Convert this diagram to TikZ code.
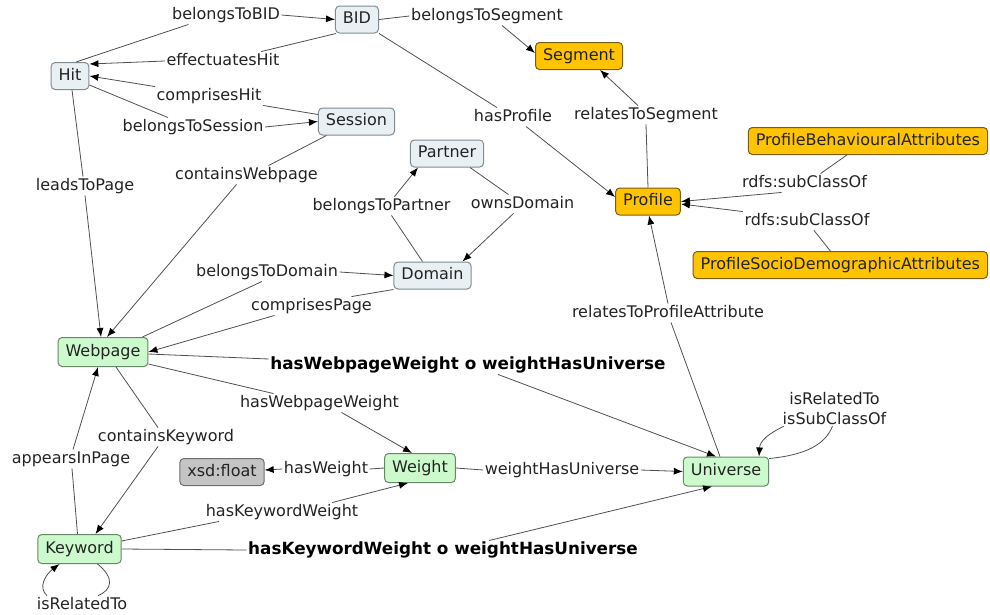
\documentclass[tikz,border=0pt]{standalone}
\usepackage{fontspec}
\setmainfont{DejaVu Sans}
\usetikzlibrary{arrows.meta}
\definecolor{lnc}{RGB}{80,80,80}
\definecolor{txc}{RGB}{35,35,35}
\definecolor{bluef}{RGB}{233,240,244}
\definecolor{blued}{RGB}{128,140,146}
\definecolor{orf}{RGB}{255,195,0}
\definecolor{ord}{RGB}{120,95,20}
\definecolor{grf}{RGB}{204,250,204}
\definecolor{grd}{RGB}{105,135,105}
\definecolor{gyf}{RGB}{196,196,196}
\definecolor{gyd}{RGB}{110,110,110}
\begin{document}
\begin{tikzpicture}[x=1pt,y=-1pt,
 box/.style={rounded corners=4pt, draw, line width=1pt, inner xsep=7.5pt, inner ysep=0pt,
   minimum height=27pt, text=txc, font=\fontsize{16}{19}\selectfont, text height=12pt, text depth=3.5pt},
 bl/.style={box, fill=bluef, draw=blued},
 org/.style={box, fill=orf, draw=ord},
 grn/.style={box, fill=grf, draw=grd, minimum height=29pt},
 gry/.style={box, fill=gyf, draw=gyd},
 lbl0/.style={inner sep=1.5pt, text=txc, font=\fontsize{16}{19.5}\selectfont},
 lbl/.style={lbl0, text height=12pt, text depth=3.5pt},
 blbl/.style={lbl, font=\fontsize{16.8}{19}\selectfont\bfseries, text=black},
 ln/.style={draw=lnc, line width=0.8pt},
 ar/.style={ln, -{Latex[length=9pt,width=7pt,color=black]}},
]
\useasboundingbox (0,0) rectangle (990,614);

% concepts
\node[bl] (bid) at (357,19.5) {BID};
\node[org] (segment) at (579,56) {Segment};
\node[bl] (hit) at (70,76) {Hit};
\node[bl] (session) at (356.5,121.5) {Session};
\node[bl] (partner) at (447,153.5) {Partner};
\node[bl] (domain) at (432.5,275.5) {Domain};
\node[org] (profile) at (648,201.5) {Profile};
\node[org, anchor=east] (pba) at (988,141) {ProfileBehaviouralAttributes};
\node[org, anchor=east] (psda) at (988,265) {ProfileSocioDemographicAttributes};
\node[grn] (webpage) at (103,352) {Webpage};
\node[gry] (xsd) at (222,472) {xsd:float};
\node[grn] (weight) at (420,468) {Weight};
\node[grn] (universe) at (726,471.5) {Universe};
\node[grn] (keyword) at (79.5,549) {Keyword};

% linking phrases
\node[lbl] (lBID) at (226,15) {belongsToBID};
\node[lbl] (lSeg) at (487,16) {belongsToSegment};
\node[lbl] (lEff) at (223,61) {effectuatesHit};
\node[lbl] (lComp) at (209,96) {comprisesHit};
\node[lbl] (lBS) at (193,127) {belongsToSession};
\node[lbl] (lProf) at (513,117) {hasProfile};
\node[lbl] (lRS) at (646,115) {relatesToSegment};
\node[lbl] (lLead) at (85,186) {leadsToPage};
\node[lbl] (lCW) at (246.5,175) {containsWebpage};
\node[lbl] (lBP) at (381.5,206) {belongsToPartner};
\node[lbl] (lOD) at (522.5,204) {ownsDomain};
\node[lbl] (lR1) at (804.5,183) {rdfs:subClassOf};
\node[lbl] (lR2) at (807,221) {rdfs:subClassOf};
\node[lbl] (lBD) at (267,272) {belongsToDomain};
\node[lbl] (lCP) at (311.5,306) {comprisesPage};
\node[lbl] (lRPA) at (668,313) {relatesToProfileAttribute};
\node[blbl] (lB1) at (468,365) {hasWebpageWeight o weightHasUniverse};
\node[lbl] (lHWW) at (319.5,403) {hasWebpageWeight};
\node[lbl0, align=center] (lLoopU) at (834.5,408.5) {isRelatedTo\\isSubClassOf};
\node[lbl] (lCK) at (166,437) {containsKeyword};
\node[lbl] (lAP) at (71,459) {appearsInPage};
\node[lbl] (lHW) at (326,469) {hasWeight};
\node[lbl] (lWHU) at (562,470) {weightHasUniverse};
\node[lbl] (lHKW) at (282,512) {hasKeywordWeight};
\node[blbl] (lB2) at (443,550) {hasKeywordWeight o weightHasUniverse};
\node[lbl] (lKL) at (82,605) {isRelatedTo};

% connectors
\draw[ln] ([xshift=6]hit.north) -- ([xshift=18]lBID.south west);
\draw[ar] (lBID.east) -- (bid.west);

\draw[ln] ([xshift=1]bid.south west) -- ([xshift=-20]lEff.north east);
\draw[ar] (lEff.west) -- ([shift={(0,2)}]hit.north east);

\draw[ln] ([shift={(0,-7)}]session.west) -- (lComp.south east);
\draw[ar] (lComp.north west) -- (hit.east);

\draw[ln] ([shift={(0,9)}]hit.east) -- ([xshift=-25]lBS.north);
\draw[ar] (lBS.east) -- (session.west);

\draw[ln] (bid.east) -- (lSeg.west);
\draw[ar] ([xshift=15]lSeg.south) -- ([shift={(0,11)}]segment.north west);

\draw[ln] (bid.south east) -- ([xshift=-16]lProf.north);
\draw[ar] ([xshift=13]lProf.south) -- ([shift={(0,-4.5)}]profile.west);

\draw[ln] (profile.north) -- (lRS.south);
\draw[ar] ([xshift=-8]lRS.north) -- ([xshift=21]segment.south);

\draw[ln] ([xshift=2]hit.south) -- ([xshift=-2]lLead.north);
\draw[ar] (lLead.south) -- ([xshift=-2]webpage.north);

\draw[ln] ([xshift=-30]session.south) -- ([xshift=22]lCW.north);
\draw[ar] ([xshift=-10]lCW.south) -- ([xshift=4]webpage.north);

\draw[ln] ([xshift=-10]domain.north) -- ([xshift=10]lBP.south);
\draw[ar] ([xshift=13]lBP.north) -- ([xshift=-29]partner.south);

\draw[ln] ([xshift=23]partner.south) -- ([xshift=-14]lOD.north);
\draw[ar] ([xshift=-9]lOD.south) -- ([xshift=30]domain.north);

\draw[ln] ([xshift=-6]webpage.north east) -- ([xshift=-5]lBD.south);
\draw[ar] (lBD.east) -- (domain.west);

\draw[ln] (domain.south west) -- ([xshift=40]lCP.north);
\draw[ar] ([xshift=25]lCP.south west) -- (webpage.east);

\draw[ln] ([xshift=-21]pba.south) -- ([xshift=16]lR1.north);
\draw[ar] ([xshift=-23]lR1.south) -- (profile.east);

\draw[ln] ([xshift=-10]psda.north) -- ([xshift=7]lR2.south);
\draw[ar] (lR2.north west) -- ([shift={(0,2.5)}]profile.east);

\draw[ln] ([xshift=-6]universe.north) -- ([xshift=3]lRPA.south);
\draw[ar] (lRPA.north) -- ([xshift=1]profile.south);

\draw[ln] ([shift={(0,2)}]webpage.east) -- ([shift={(0,-6)}]lB1.west);
\draw[ar] ([xshift=30]lB1.south) -- ([xshift=-10]universe.north);

\draw[ln] ([shift={(0,12)}]webpage.east) -- ([xshift=-46]lHWW.north);
\draw[ar] ([xshift=22]lHWW.south) -- ([xshift=-8]weight.north);

\draw[ln] ([shift={(0,2)}]universe.north east) .. controls (805,455) and (825,445) .. ([xshift=-2]lLoopU.south);
\draw[ar] ([xshift=3]lLoopU.south west) .. controls (770,433) and (760,440) .. ([xshift=33]universe.north);

\draw[ln] ([xshift=13]webpage.south) -- ([xshift=-8]lCK.north);
\draw[ar] ([xshift=-8]lCK.south) -- ([xshift=16]keyword.north);

\draw[ln] ([xshift=-2]keyword.north) -- ([xshift=1]lAP.south);
\draw[ar] ([xshift=2]lAP.north) -- ([xshift=-5]webpage.south);

\draw[ln] (weight.west) -- (lHW.east);
\draw[ar] (lHW.west) -- ([shift={(0,-2)}]xsd.east);

\draw[ln] (weight.east) -- (lWHU.west);
\draw[ar] (lWHU.east) -- (universe.west);

\draw[ln] ([shift={(0,-8)}]keyword.east) -- ([xshift=-63]lHKW.south);
\draw[ar] ([xshift=50]lHKW.north) -- ([xshift=-12]weight.south);

\draw[ln] (keyword.east) -- (lB2.west);
\draw[ar] ([xshift=46]lB2.north) -- ([xshift=-14]universe.south);

\draw[ln] ([xshift=18]keyword.south) .. controls (115,578) and (112,590) .. ([xshift=16]lKL.north);
\draw[ar] ([xshift=-35]lKL.north) .. controls (38,588) and (45,575) .. ([xshift=-20]keyword.south);
\end{tikzpicture}
\end{document}
